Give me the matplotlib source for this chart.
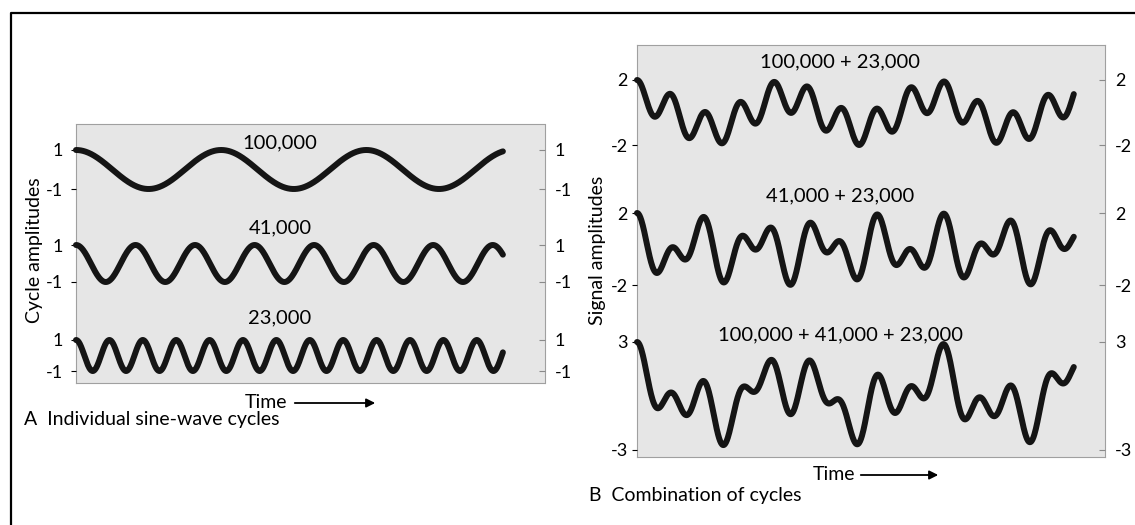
import numpy as np
import matplotlib.pyplot as plt
from matplotlib.patches import Rectangle

plt.rcParams['font.family'] = ['Lato', 'DejaVu Sans']
plt.rcParams['hatch.linewidth'] = 0.6
plt.rcParams['hatch.color'] = '#b8b8b8'

W, H = 1135, 525

# orbital cycle periods (years)
periods = [100000, 41000, 23000]
cycle_labels = ['100,000', '41,000', '23,000']
combo_labels = ['100,000 + 23,000', '41,000 + 23,000', '100,000 + 41,000 + 23,000']
combo_members = [[0, 2], [1, 2], [0, 1, 2]]
combo_limits = [2, 2, 3]
time_end = 294000

t = np.linspace(0, time_end, 900)
waves = [np.cos(2 * np.pi * t / p) for p in periods]
combos = [sum(waves[i] for i in m) for m in combo_members]


def rect(x0, y0, x1, y1):
    return [x0 / W, 1 - y1 / H, (x1 - x0) / W, (y1 - y0) / H]


fig = plt.figure(figsize=(W / 100, H / 100), dpi=100)

# overlay in pixel coords for frame, captions and arrows (kept on top)
over = fig.add_axes([0, 0, 1, 1])
over.set_xlim(0, W)
over.set_ylim(H, 0)
over.axis('off')
over.set_zorder(10)
over.plot([11, 11, W], [H, 12.5, 12.5], color='black', lw=1.6)


def panel(x0, y0, x1, y1):
    ax = fig.add_axes(rect(x0, y0, x1, y1))
    ax.set_facecolor('#e6e6e6')
    ax.add_patch(Rectangle((0, 0), 1, 1, transform=ax.transAxes, facecolor='none',
                           edgecolor='none', hatch='....'))
    ax.set_xticks([])
    ax.set_yticks([])
    for s in ax.spines.values():
        s.set_color('#a0a0a0')
        s.set_linestyle((0, (2, 1)))
        s.set_linewidth(0.8)


def row(x0, x1, ytop, ybot, lim, xmax, y, pad_l, pad_r):
    ax = fig.add_axes(rect(x0, ytop, x1, ybot))
    ax.patch.set_alpha(0)
    ax.plot(t, y, color='#151515', lw=4.3, solid_capstyle='round', clip_on=False)
    ax.set_xlim(0, xmax)
    ax.set_ylim(-lim, lim)
    ax.set_xticks([])
    for s in ax.spines.values():
        s.set_visible(False)
    labels = [str(lim), '-' + str(lim)]
    ax.set_yticks([lim, -lim])
    ax.set_yticklabels(labels)
    ax.tick_params(axis='y', left=False, pad=pad_l, labelsize=13)
    ax2 = ax.twinx()
    ax2.set_ylim(-lim, lim)
    ax2.set_yticks([lim, -lim])
    ax2.set_yticklabels(labels)
    ax2.tick_params(axis='y', direction='in', length=4, color='#8a8a8a', pad=pad_r, labelsize=13)
    for s in ax2.spines.values():
        s.set_visible(False)
    ax2.patch.set_alpha(0)


# A: individual cycles
panel(76, 124, 545, 383)
rows_a = [(150, 189), (245, 282), (340, 371)]
label_y_a = [148, 233, 323]
for (yt, yb), w, lab, ly in zip(rows_a, waves, cycle_labels, label_y_a):
    row(76, 545, yt, yb, 1, 323000, w, 6, 7)
    over.text(280, ly, lab, ha='center', va='baseline', fontsize=14.5)

over.text(35, 250, 'Cycle amplitudes', rotation=90, ha='center', va='center', fontsize=14)
over.text(266, 402, 'Time', ha='center', va='center', fontsize=14)
over.annotate('', xy=(378, 403), xytext=(292, 403),
              arrowprops=dict(arrowstyle='-|>', color='black', lw=1.3, mutation_scale=13))
over.text(24, 420, 'A  Individual sine-wave cycles', ha='left', va='center', fontsize=14)

# B: combination of cycles
panel(637, 45, 1105, 457)
rows_b = [(80, 145), (213, 285), (342, 450)]
label_y_b = [67, 201, 340]
for (yt, yb), c, lim, lab, ly in zip(rows_b, combos, combo_limits, combo_labels, label_y_b):
    row(637, 1105, yt, yb, lim, 315000, c, 3, 7)
    over.text(840, ly, lab, ha='center', va='baseline', fontsize=14.5)

over.text(597, 250, 'Signal amplitudes', rotation=90, ha='center', va='center', fontsize=14)
over.text(834, 474, 'Time', ha='center', va='center', fontsize=14)
over.annotate('', xy=(941, 475), xytext=(858, 475),
              arrowprops=dict(arrowstyle='-|>', color='black', lw=1.3, mutation_scale=13))
over.text(589, 496, 'B  Combination of cycles', ha='left', va='center', fontsize=14)

fig.savefig('out.png', dpi=100)
